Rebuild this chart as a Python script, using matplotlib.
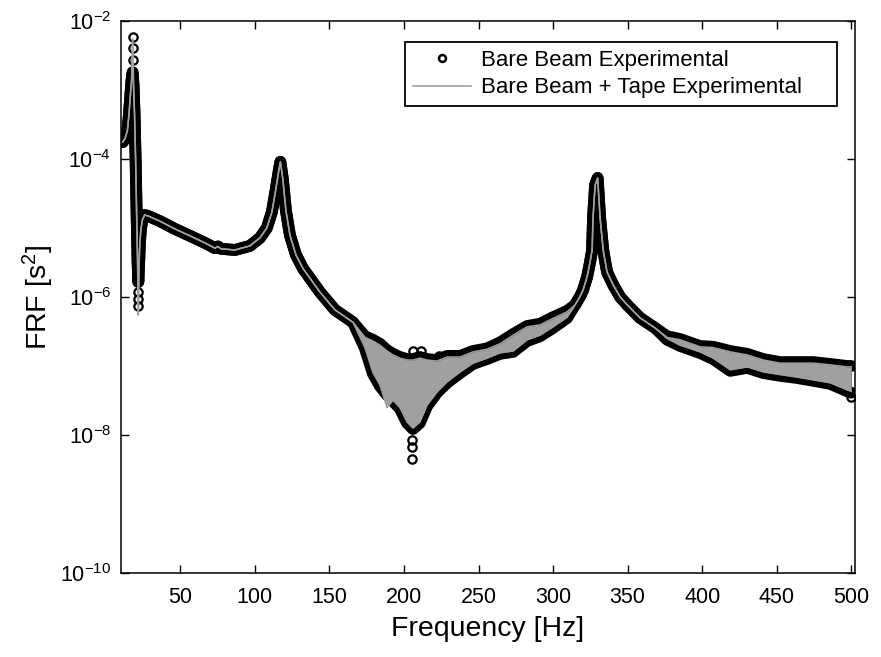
import matplotlib
matplotlib.use('Agg')
from matplotlib import pyplot as plt
from matplotlib.lines import Line2D
from matplotlib.ticker import NullLocator

plt.rcParams['font.family'] = ['Liberation Sans', 'DejaVu Sans']
plt.rcParams['mathtext.fontset'] = 'custom'
plt.rcParams['mathtext.rm'] = 'Liberation Sans'
plt.rcParams['mathtext.default'] = 'regular'

# frequency samples [Hz]
freq = [11.4, 13.0, 14.5, 15.5, 16.5, 17.3, 18.0, 18.6, 19.3, 20.0,
        20.7, 21.3, 21.8, 22.3, 22.8, 23.5, 24.5, 26.0, 28.2, 36.2,
        46.3, 56.4, 66.4, 73.2, 75.2, 77.2, 86.6, 96.6, 103.4, 108.0,
        111.4, 114.0, 116.1, 117.1, 118.8, 120.8, 123.5, 127.5, 132.2, 143.6,
        153.7, 165.8, 173.8, 179.2, 183.9, 188.6, 192.6, 197.3, 202.0, 206.0,
        210.7, 215.4, 222.1, 228.9, 237.6, 246.3, 255.7, 264.4, 273.2, 282.6,
        291.3, 300.0, 309.4, 314.8, 318.2, 320.1, 322.8, 324.8, 326.2, 326.8,
        328.2, 329.9, 331.5, 333.6, 336.2, 340.3, 345.0, 349.7, 358.4, 368.4,
        376.5, 385.2, 398.6, 407.4, 418.8, 430.2, 441.0, 452.3, 463.7, 474.5,
        485.9, 497.3, 500.0]

# bare beam: upper / lower extent of the measured FRF [s^2]
bare_hi = [1.76e-4, 2.0e-4, 2.6e-4, 4.3e-4, 8.5e-4, 1.4e-3, 1.8e-3, 1.18e-3, 4.3e-4, 9.7e-5,
           1.54e-5, 3.4e-6, 1.65e-6, 2.9e-6, 5.7e-6, 9.4e-6, 1.3e-5, 1.54e-5, 1.5e-5, 1.26e-5,
           9.7e-6, 7.7e-6, 6.1e-6, 5.1e-6, 5.4e-6, 5.0e-6, 4.8e-6, 5.5e-6, 7.2e-6, 1.0e-5,
           1.7e-5, 3.6e-5, 6.9e-5, 9.1e-5, 5.0e-5, 1.8e-5, 7.9e-6, 4.1e-6, 2.6e-6, 1.18e-6,
           6.5e-7, 4.3e-7, 2.7e-7, 2.4e-7, 2.1e-7, 1.7e-7, 1.5e-7, 1.35e-7, 1.26e-7, 1.26e-7,
           1.35e-7, 1.26e-7, 1.22e-7, 1.4e-7, 1.4e-7, 1.65e-7, 1.8e-7, 2.2e-7, 2.9e-7, 3.8e-7,
           4.1e-7, 5.1e-7, 6.3e-7, 7.7e-7, 1.03e-6, 1.26e-6, 1.95e-6, 3.2e-6, 4.8e-6, 1.44e-5,
           4.2e-5, 5.3e-5, 1.44e-5, 4.8e-6, 2.3e-6, 1.5e-6, 1.0e-6, 7.7e-7, 4.97e-7, 3.56e-7,
           2.7e-7, 2.46e-7, 1.95e-7, 1.9e-7, 1.65e-7, 1.5e-7, 1.26e-7, 1.14e-7, 1.14e-7, 1.14e-7,
           1.07e-7, 1.0e-7, 1.0e-7]
bare_lo = [1.76e-4, 2.0e-4, 2.6e-4, 4.3e-4, 8.5e-4, 1.4e-3, 1.8e-3, 1.18e-3, 4.3e-4, 9.7e-5,
           1.54e-5, 3.4e-6, 1.65e-6, 2.9e-6, 5.7e-6, 9.4e-6, 1.3e-5, 1.54e-5, 1.5e-5, 1.26e-5,
           9.7e-6, 7.7e-6, 6.1e-6, 5.1e-6, 5.4e-6, 5.0e-6, 4.8e-6, 5.5e-6, 7.2e-6, 1.0e-5,
           1.7e-5, 3.6e-5, 6.9e-5, 9.1e-5, 5.0e-5, 1.8e-5, 7.9e-6, 4.1e-6, 2.6e-6, 1.18e-6,
           6.5e-7, 4.3e-7, 1.8e-7, 7.7e-8, 5.1e-8, 3.8e-8, 3.1e-8, 2.4e-8, 1.5e-8, 1.22e-8,
           1.5e-8, 2.6e-8, 4.1e-8, 5.7e-8, 7.9e-8, 1.07e-7, 1.26e-7, 1.5e-7, 1.6e-7, 2.3e-7,
           2.7e-7, 3.56e-7, 4.97e-7, 7.7e-7, 1.03e-6, 1.26e-6, 1.95e-6, 3.2e-6, 4.8e-6, 1.44e-5,
           4.2e-5, 5.3e-5, 1.44e-5, 4.8e-6, 2.3e-6, 1.5e-6, 1.0e-6, 7.7e-7, 4.97e-7, 3.56e-7,
           2.4e-7, 1.95e-7, 1.54e-7, 1.26e-7, 8.5e-8, 9.4e-8, 7.9e-8, 7.2e-8, 6.7e-8, 6.1e-8,
           5.5e-8, 4.3e-8, 4.1e-8]

# bare beam: isolated samples standing out of the band
bare_pts_f = [18.0, 18.0, 18.0, 21.7, 21.7, 21.7, 205.6, 205.6, 205.6, 206.0, 211.7, 223.5, 499.5]
bare_pts_v = [5.9e-3, 4.1e-3, 2.7e-3, 1.2e-6, 9.5e-7, 7.4e-7, 8.5e-9, 6.8e-9, 4.5e-9,
              1.65e-7, 1.65e-7, 1.4e-7, 3.6e-8]

# bare beam + tape: upper / lower extent [s^2]
tape_hi = [1.76e-4, 2.0e-4, 2.6e-4, 4.3e-4, 8.5e-4, 1.4e-3, 5.5e-3, 1.18e-3, 4.3e-4, 9.7e-5,
           1.54e-5, 3.4e-6, 5.5e-7, 2.9e-6, 5.7e-6, 9.4e-6, 1.3e-5, 1.54e-5, 1.5e-5, 1.26e-5,
           9.7e-6, 7.7e-6, 6.1e-6, 5.1e-6, 5.4e-6, 5.0e-6, 4.8e-6, 5.5e-6, 7.2e-6, 1.0e-5,
           1.7e-5, 3.6e-5, 6.9e-5, 9.1e-5, 5.0e-5, 1.8e-5, 7.9e-6, 4.1e-6, 2.6e-6, 1.18e-6,
           6.5e-7, 4.3e-7, 2.6e-7, 2.3e-7, 2.0e-7, 1.65e-7, 1.45e-7, 1.3e-7, 1.22e-7, 1.22e-7,
           1.3e-7, 1.22e-7, 1.18e-7, 1.35e-7, 1.35e-7, 1.6e-7, 1.75e-7, 2.1e-7, 2.8e-7, 3.7e-7,
           3.95e-7, 4.9e-7, 6.1e-7, 7.7e-7, 1.03e-6, 1.26e-6, 1.95e-6, 3.2e-6, 4.8e-6, 1.44e-5,
           4.2e-5, 5.3e-5, 1.44e-5, 4.8e-6, 2.3e-6, 1.5e-6, 1.0e-6, 7.7e-7, 4.97e-7, 3.56e-7,
           2.6e-7, 2.4e-7, 1.9e-7, 1.85e-7, 1.6e-7, 1.45e-7, 1.22e-7, 1.1e-7, 1.1e-7, 1.1e-7,
           1.04e-7, 9.7e-8, 9.7e-8]
tape_lo = [1.76e-4, 2.0e-4, 2.6e-4, 4.3e-4, 8.5e-4, 1.4e-3, 5.5e-3, 1.18e-3, 4.3e-4, 9.7e-5,
           1.54e-5, 3.4e-6, 5.5e-7, 2.9e-6, 5.7e-6, 9.4e-6, 1.3e-5, 1.54e-5, 1.5e-5, 1.26e-5,
           9.7e-6, 7.7e-6, 6.1e-6, 5.1e-6, 5.4e-6, 5.0e-6, 4.8e-6, 5.5e-6, 7.2e-6, 1.0e-5,
           1.7e-5, 3.6e-5, 6.9e-5, 9.1e-5, 5.0e-5, 1.8e-5, 7.9e-6, 4.1e-6, 2.6e-6, 1.18e-6,
           6.5e-7, 4.3e-7, 1.85e-7, 8.0e-8, 5.3e-8, 2.5e-8, 3.2e-8, 2.5e-8, 1.55e-8, 1.26e-8,
           1.55e-8, 2.7e-8, 4.2e-8, 5.9e-8, 8.2e-8, 1.1e-7, 1.3e-7, 1.55e-7, 1.65e-7, 2.4e-7,
           2.8e-7, 3.7e-7, 5.1e-7, 7.7e-7, 1.03e-6, 1.26e-6, 1.95e-6, 3.2e-6, 4.8e-6, 1.44e-5,
           4.2e-5, 5.3e-5, 1.44e-5, 4.8e-6, 2.3e-6, 1.5e-6, 1.0e-6, 7.7e-7, 4.97e-7, 3.56e-7,
           2.5e-7, 2.0e-7, 1.6e-7, 1.3e-7, 8.8e-8, 9.7e-8, 8.2e-8, 7.5e-8, 6.9e-8, 6.3e-8,
           5.7e-8, 4.5e-8, 4.3e-8]

fig = plt.figure(figsize=(8.81, 6.57), dpi=100)
ax = fig.add_axes([121 / 881, 84 / 657, 734 / 881, 552 / 657])

# bare beam (dense open circles -> thick black band)
ax.fill_between(freq, bare_lo, bare_hi, color='black', lw=0, zorder=2)
for band in (bare_hi, bare_lo):
    ax.plot(freq, band, color='black', lw=8.5, solid_joinstyle='round',
            solid_capstyle='round', zorder=2)
ax.plot(bare_pts_f, bare_pts_v, 'o', mec='black', mfc='none', ms=6, mew=1.6, zorder=2)

# bare beam + tape (thin gray line)
ax.fill_between(freq, tape_lo, tape_hi, color='#a0a0a0', lw=0, zorder=3)
for band in (tape_hi, tape_lo):
    ax.plot(freq, band, color='#a0a0a0', lw=1.1, zorder=3)

ax.set_yscale('log')
ax.set_xlim(10.2, 502.5)
ax.set_ylim(1e-10, 1e-2)
ax.set_xticks([50, 100, 150, 200, 250, 300, 350, 400, 450, 500])
ax.set_yticks([1e-10, 1e-8, 1e-6, 1e-4, 1e-2])
ax.yaxis.set_minor_locator(NullLocator())
ax.tick_params(direction='in', top=True, right=True, length=6, width=1, labelsize=15.5)
ax.tick_params(axis='x', pad=10)
ax.tick_params(axis='y', pad=7)
for s in ax.spines.values():
    s.set_linewidth(1.1)

ax.set_xlabel('Frequency [Hz]', fontsize=20.5, labelpad=6)
ax.set_ylabel('FRF [s$^2$]', fontsize=20.5, labelpad=3)

handles = [
    Line2D([], [], ls='none', marker='o', mec='black', mfc='none', ms=5, mew=1.8),
    Line2D([], [], color='#a0a0a0', lw=1.2),
]
labels = ['Bare Beam Experimental', 'Bare Beam + Tape Experimental']
x0 = (405 - 121) / 734
w = (837 - 405) / 734
ytop = 1 - (42 - 21) / 552
leg = ax.legend(handles, labels, loc='upper left', bbox_to_anchor=(x0, ytop - 0.2, w, 0.2),
                mode='expand', fontsize=16, frameon=True, fancybox=False, framealpha=1,
                edgecolor='black', handlelength=2.6, handletextpad=0.45,
                labelspacing=0.3, borderpad=0.35, borderaxespad=0)
leg.get_frame().set_linewidth(1.3)

plt.savefig('out.png', dpi=100)
